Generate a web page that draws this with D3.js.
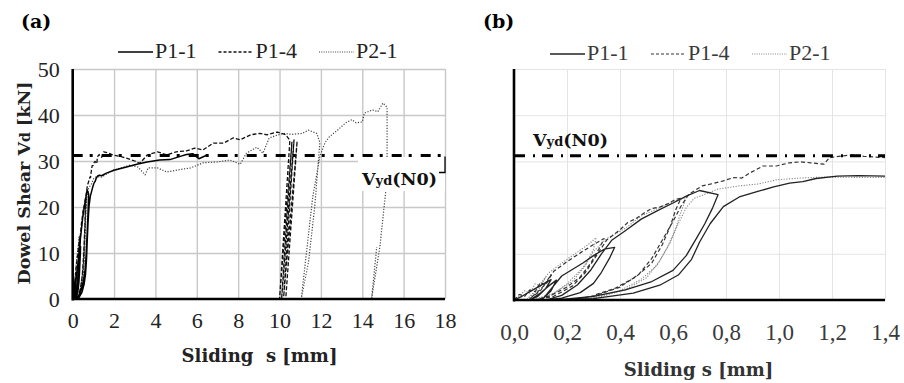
<!DOCTYPE html>
<html>
<head>
<meta charset="utf-8">
<script src="https://cdn.jsdelivr.net/npm/d3@7"></script>
<style>
    body { margin: 0; background: #fff; }
</style>
</head>
<body>
<div id="chart"></div>
<script>
'use strict';

// measured curves, [sliding s (mm), dowel shear Vd (kN)]
const p11Data = [
    [0, 0], [0.03, 0.8], [0.06, 1.8], [0.09, 2.8], [0.12, 3.8], [0.14, 4.4], [0.12, 2.5], [0.09, 0.8], [0.06, 0],
    [0.1, 1.5], [0.13, 3], [0.16, 4.3], [0.14, 2], [0.11, 0.3],
    [0.18, 5.2], [0.22, 6.6], [0.26, 8], [0.3, 9.6], [0.34, 11], [0.38, 11.4],
    [0.36, 9], [0.33, 6], [0.3, 3.6], [0.25, 1.6], [0.18, 0.4], [0.12, 0],
    [0.18, 1], [0.24, 3.3], [0.29, 6.5], [0.33, 10], [0.37, 13], [0.42, 15], [0.48, 17.5], [0.54, 19.3],
    [0.6, 21], [0.65, 22.5], [0.7, 23.7], [0.77, 22.8],
    [0.75, 20], [0.72, 16.5], [0.69, 13.5], [0.65, 9.6], [0.6, 6.4], [0.52, 4], [0.42, 2.2], [0.3, 0.8], [0.16, 0],
    [0.3, 0.3], [0.45, 1.5], [0.55, 3.2], [0.62, 5.4], [0.67, 8.8], [0.7, 12.5], [0.74, 16.5], [0.79, 20.2],
    [0.85, 22.3], [0.92, 23.5], [0.98, 24.5], [1.04, 25.3], [1.09, 25.6], [1.14, 26.3], [1.22, 26.8], [1.3, 26.9], [1.4, 26.8],
    [1.6, 27.3], [2.0, 28], [2.6, 28.7], [3.1, 29.3], [3.6, 29.8], [4.2, 30.2], [4.7, 30.3], [5.2, 31], [5.5, 31.4],
    [5.8, 31.6], [6.1, 30.5], [6.5, 31.3]
];

const p14Data = [
    [0, 0], [0.02, 1.2], [0.04, 0.8], [0.06, 2.2], [0.08, 1.8], [0.1, 3.8], [0.12, 3.2], [0.14, 5.5], [0.1, 2], [0.06, 0.3],
    [0.09, 1.8], [0.12, 3.5], [0.15, 6.2],
    [0.2, 8.3], [0.25, 10.2], [0.3, 12], [0.34, 13.3],
    [0.32, 11], [0.29, 8], [0.25, 5], [0.2, 2.8], [0.14, 1], [0.08, 0],
    [0.15, 0.8], [0.22, 3], [0.27, 6], [0.31, 9.5], [0.35, 13], [0.4, 15.2], [0.43, 16.8], [0.46, 17.6], [0.49, 18.8],
    [0.52, 19.8], [0.55, 20.1], [0.58, 20.8], [0.61, 21.8], [0.63, 22],
    [0.61, 19.5], [0.59, 16], [0.56, 12], [0.52, 8], [0.46, 5], [0.38, 2.5], [0.28, 0.6], [0.2, 0],
    [0.3, 0.8], [0.4, 2.8], [0.47, 5.5], [0.52, 9], [0.56, 13], [0.6, 17], [0.63, 20.3], [0.66, 22.9], [0.71, 24.7],
    [0.75, 25.2], [0.79, 25.8], [0.83, 26.5], [0.86, 26.4], [0.89, 27.5], [0.94, 29], [0.99, 29], [1.04, 29.7],
    [1.08, 29.9], [1.12, 29.7], [1.17, 29.4], [1.19, 30.8], [1.24, 31.2], [1.28, 31.4], [1.32, 31.1], [1.4, 30.8],
    [1.5, 32], [1.7, 31.8], [1.95, 31.3], [2.3, 31], [2.6, 30.6], [3.0, 30], [3.25, 29.5], [3.6, 31.3], [4.1, 32],
    [4.55, 31.3], [5.0, 32], [5.5, 32.2], [5.9, 32.8], [6.3, 32.4], [6.8, 33.9], [7.3, 33.9], [7.75, 35], [8.1, 34.6],
    [8.6, 35.7], [9.05, 36], [9.4, 35.7], [9.9, 36.3], [10.3, 35.7], [10.5, 34.5],
    [10.0, 0], [10.6, 34.2], [10.1, 0], [10.7, 34.6], [10.2, 0.5], [10.85, 34.3], [10.3, 0]
];

const p21Data = [
    [0, 0], [0.02, 0.9], [0.04, 2], [0.06, 1.5], [0.08, 3.5], [0.1, 3], [0.12, 5], [0.09, 2], [0.05, 0.2],
    [0.08, 2], [0.13, 5.8],
    [0.18, 8], [0.23, 10], [0.28, 12], [0.31, 13.5],
    [0.3, 11], [0.27, 7.5], [0.22, 4], [0.15, 1.5], [0.07, 0],
    [0.14, 1], [0.2, 3.5], [0.26, 7], [0.3, 10.5], [0.35, 13.3], [0.42, 15.5], [0.48, 18.2], [0.55, 20], [0.6, 21.3], [0.65, 22.2],
    [0.63, 19], [0.61, 15.5], [0.58, 11.5], [0.54, 7.5], [0.48, 4.5], [0.4, 2], [0.3, 0.5], [0.22, 0],
    [0.32, 0.6], [0.42, 2.2], [0.5, 4.8], [0.55, 8.5], [0.59, 12.5], [0.62, 16.5], [0.65, 20], [0.68, 22], [0.77, 24],
    [0.85, 24.7], [0.92, 25.1], [0.99, 26], [1.08, 26.4], [1.17, 26.6], [1.4, 26.5],
    [1.95, 28], [2.77, 29.1], [3.15, 28.7], [3.5, 27], [3.65, 28.5], [4.1, 28.5], [4.55, 27.6], [5.0, 28], [5.7, 28.5],
    [6.3, 29.6], [7.0, 29.8], [7.6, 30.2], [8.1, 29.3], [8.4, 31.7], [8.9, 33], [9.2, 31.7], [9.5, 35], [9.8, 35.5],
    [10.2, 36], [10.6, 35.8], [11.1, 36], [11.4, 36.7], [11.8, 36], [11.95, 34],
    [11.7, 20], [11.4, 8], [11.05, 0], [11.3, 10], [11.6, 22], [11.95, 31],
    [12.2, 34], [12.4, 35.2], [12.8, 36.7], [13.2, 38.3], [13.5, 39], [13.7, 38.3], [14.0, 38.5], [14.1, 40.4],
    [14.5, 41.1], [14.75, 40.7], [15.0, 42.6], [15.2, 41.7],
    [15.2, 31.3], [15.15, 24], [14.85, 11.3], [14.45, 0], [14.7, 11.3]
];

const seriesNames = ['P1-1', 'P1-4', 'P2-1'];
const vydValue = 31.2;
const vydLabel = ['V', 'yd', '(N0)'];

const yTicks = [0, 10, 20, 30, 40, 50];
const xTicksA = [0, 2, 4, 6, 8, 10, 12, 14, 16, 18];
const xTicksB = [0, 0.2, 0.4, 0.6, 0.8, 1.0, 1.2, 1.4];

const serifNum = '"Liberation Serif", "Times New Roman", serif';
const serifBold = '"DejaVu Serif", serif';

let svg = d3.select('#chart').append('svg')
    .attr('width', 904)
    .attr('height', 383)
;

function drawPanel(p) {
    let x = d3.scaleLinear().domain([p.xTicks[0], p.xTicks[p.xTicks.length - 1]]).range([p.left, p.right]);
    let y = d3.scaleLinear().domain([0, 50]).range([p.bottom, p.top]);
    let g = svg.append('g');

    // grid
    g.append('g')
        .attr('transform', 'translate(0,' + p.bottom + ')')
        .call(d3.axisBottom(x).tickValues(p.xTicks.slice(1)).tickSize(-(p.bottom - p.top)).tickFormat(''))
        .call(s => s.select('.domain').remove())
        .selectAll('line')
        .style('stroke', p.gridColor)
        .style('stroke-width', p.gridWidth)
    ;
    g.append('g')
        .attr('transform', 'translate(' + p.left + ',0)')
        .call(d3.axisLeft(y).tickValues(yTicks.slice(1)).tickSize(-(p.right - p.left)).tickFormat(''))
        .call(s => s.select('.domain').remove())
        .selectAll('line')
        .style('stroke', p.gridColor)
        .style('stroke-width', p.gridWidth)
    ;

    // curves
    svg.append('clipPath').attr('id', 'clip-' + p.name)
        .append('rect')
        .attr('x', p.left)
        .attr('y', p.top - 4)
        .attr('width', p.right - p.left)
        .attr('height', p.bottom - p.top + 4)
    ;

    let line = d3.line()
        .x(function (d) { return x(d[0]); })
        .y(function (d) { return y(d[1]); })
    ;

    let series = [
        {data: p11Data, style: p.styles[0]},
        {data: p14Data, style: p.styles[1]},
        {data: p21Data, style: p.styles[2]}
    ];

    g.append('g').attr('clip-path', 'url(#clip-' + p.name + ')')
        .selectAll('path').data(series.slice().reverse()).enter()
        .append('path')
        .attr('d', function (s) { return line(s.data); })
        .style('fill', 'none')
        .style('stroke', function (s) { return s.style.color; })
        .style('stroke-width', function (s) { return s.style.width; })
        .style('stroke-dasharray', function (s) { return s.style.dash; })
        .style('stroke-linejoin', 'round')
    ;

    // Vyd(N0) reference line
    g.append('line')
        .attr('x1', p.left).attr('x2', p.right)
        .attr('y1', y(vydValue)).attr('y2', y(vydValue))
        .style('stroke', '#000')
        .style('stroke-width', 3)
        .style('stroke-dasharray', p.vydDash)
    ;

    // axes
    g.append('line')
        .attr('x1', p.left).attr('x2', p.left).attr('y1', p.top).attr('y2', p.bottom + 1.5)
        .style('stroke', '#000').style('stroke-width', 2.6)
    ;
    g.append('line')
        .attr('x1', p.left).attr('x2', p.right).attr('y1', p.bottom).attr('y2', p.bottom)
        .style('stroke', '#000').style('stroke-width', 2.6)
    ;

    let xa = g.append('g')
        .attr('transform', 'translate(0,' + p.bottom + ')')
        .call(d3.axisBottom(x).tickValues(p.xTicks).tickSize(0).tickPadding(p.xPad).tickFormat(p.xFormat))
    ;
    xa.select('.domain').remove();
    xa.selectAll('text')
        .attr('font-family', serifNum)
        .attr('font-size', p.tickSize)
        .style('fill', p.tickColor)
    ;

    if (p.yLabels) {
        let ya = g.append('g')
            .attr('transform', 'translate(' + p.left + ',0)')
            .call(d3.axisLeft(y).tickValues(yTicks).tickSize(0).tickPadding(13))
        ;
        ya.select('.domain').remove();
        ya.selectAll('text')
            .attr('font-family', serifNum)
            .attr('font-size', 22)
            .style('fill', '#222')
        ;
    }

    // x title
    g.append('text')
        .attr('x', p.xTitle[0])
        .attr('y', p.xTitle[1])
        .style('text-anchor', 'middle')
        .style('font-family', serifBold)
        .style('font-weight', 'bold')
        .style('font-size', '18px')
        .style('white-space', 'pre')
        .style('fill', p.titleColor)
        .text(p.xTitleText)
    ;

    // panel letter
    g.append('text')
        .attr('x', p.letterPos[0])
        .attr('y', p.letterPos[1])
        .style('font-family', serifBold)
        .style('font-weight', 'bold')
        .style('font-size', '19px')
        .text(p.letter)
    ;

    // legend
    let lg = g.append('g');
    series.forEach(function (s, i) {
        let lx = p.legendX + i * p.legendStep;
        lg.append('line')
            .attr('x1', lx).attr('x2', lx + 35)
            .attr('y1', p.legendY - 6).attr('y2', p.legendY - 6)
            .style('stroke', s.style.color)
            .style('stroke-width', s.style.width)
            .style('stroke-dasharray', s.style.legendDash || s.style.dash)
        ;
        lg.append('text')
            .attr('x', lx + 37)
            .attr('y', p.legendY)
            .style('font-family', serifNum)
            .style('font-size', '22px')
            .style('fill', p.tickColor)
            .text(seriesNames[i])
        ;
    });

    // Vyd(N0) label
    if (p.vydBox) {
        g.append('rect')
            .attr('x', p.vydBox[0]).attr('y', p.vydBox[1])
            .attr('width', p.vydBox[2]).attr('height', p.vydBox[3])
            .style('fill', '#fff')
        ;
        g.append('path')
            .attr('d', 'M' + (p.right - 6) + ',' + (y(vydValue) + 17) + 'H' + p.right + 'V' + (y(vydValue) + 1))
            .style('fill', 'none')
            .style('stroke', '#000')
            .style('stroke-width', 1.3)
        ;
    }
    let vt = g.append('text')
        .attr('x', p.vydPos[0])
        .attr('y', p.vydPos[1])
        .style('font-family', serifBold)
        .style('font-weight', 'bold')
        .style('font-size', '17.5px')
        .style('fill', '#111')
    ;
    vt.append('tspan').text(vydLabel[0]);
    vt.append('tspan').style('font-size', '13px').text(vydLabel[1]);
    vt.append('tspan').text(vydLabel[2]);

    return g;
}

drawPanel({
    name: 'a',
    left: 72.7, right: 445, top: 69, bottom: 299,
    xTicks: xTicksA,
    xFormat: d3.format('d'),
    xPad: 13,
    tickSize: 22,
    tickColor: '#222',
    titleColor: '#222',
    yLabels: true,
    gridColor: '#c8c8c8',
    gridWidth: 1.4,
    vydDash: '10,7,3,9',
    styles: [
        {color: '#000', width: 1.5, dash: null},
        {color: '#111', width: 1.3, dash: '4,2', legendDash: '3,2'},
        {color: '#444', width: 1.2, dash: '1.2,1.6', legendDash: '1,1.3'}
    ],
    xTitle: [259.5, 362],
    xTitleText: 'Sliding\u00a0 s [mm]',
    letter: '(a)',
    letterPos: [21, 28],
    legendX: 118,
    legendStep: 100.5,
    legendY: 58,
    vydBox: [358, 157, 87, 34],
    vydPos: [362, 185]
});

drawPanel({
    name: 'b',
    left: 514, right: 885, top: 69, bottom: 300,
    xTicks: xTicksB,
    xFormat: function (d) { return d3.format('.1f')(d).replace('.', ','); },
    xPad: 24,
    tickSize: 23,
    tickColor: '#3a3a3a',
    titleColor: '#333',
    yLabels: false,
    gridColor: '#e4e4e4',
    gridWidth: 1,
    vydDash: '11,8,2,7',
    styles: [
        {color: '#222', width: 1.3, dash: null},
        {color: '#333', width: 1.2, dash: '4,2.5', legendDash: '3,2'},
        {color: '#888', width: 1.1, dash: '1.2,1.5', legendDash: '1,1.3'}
    ],
    xTitle: [698.5, 376],
    xTitleText: 'Sliding s [mm]',
    letter: '(b)',
    letterPos: [483, 28],
    legendX: 550,
    legendStep: 101,
    legendY: 60,
    vydBox: null,
    vydPos: [533, 146]
});

// y axis title of panel (a)
let yTitle = svg.append('text')
    .attr('transform', 'translate(30,183) rotate(-90)')
    .style('text-anchor', 'middle')
    .style('font-family', serifBold)
    .style('font-weight', 'bold')
    .style('font-size', '17.5px')
    .style('fill', '#222')
;
yTitle.append('tspan').text('Dowel Shear V');
yTitle.append('tspan').style('font-size', '14px').text('d');
yTitle.append('tspan').text(' [kN]');
</script>
</body>
</html>
